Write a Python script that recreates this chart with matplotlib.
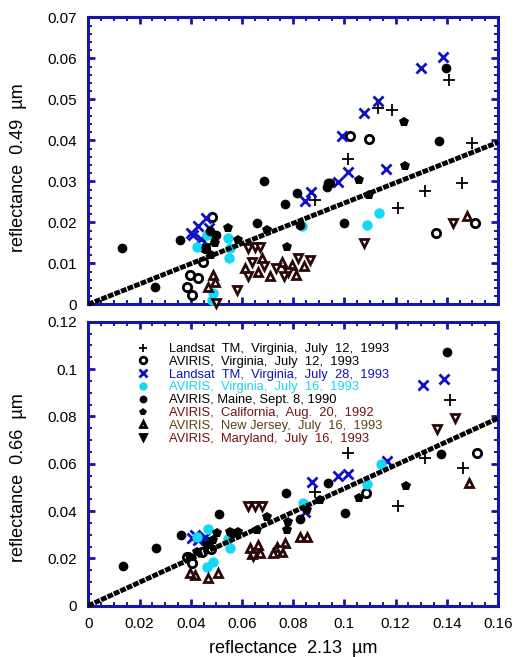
import matplotlib
matplotlib.use("Agg")
import matplotlib.pyplot as plt
from matplotlib.ticker import MultipleLocator, FuncFormatter

plt.rcParams["font.family"] = ["Liberation Sans", "DejaVu Sans"]

FRAME_BLUE = "#1616a8"
X_BLUE = "#1010c0"
CYAN = "#14d8f4"
DARK_BROWN = "#2a0808"

# fitted lines (slope of y on x through origin)
TOP_SLOPE = 0.247
BOT_SLOPE = 0.495

LABELS = [
    "Landsat  TM,  Virginia,  July  12,  1993",
    "AVIRIS,  Virginia,  July  12,  1993",
    "Landsat  TM,  Virginia,  July  28,  1993",
    "AVIRIS,  Virginia,  July  16,  1993",
    "AVIRIS, Maine, Sept. 8, 1990",
    "AVIRIS,  California,  Aug.  20,  1992",
    "AVIRIS,  New Jersey,  July  16,  1993",
    "AVIRIS,  Maryland,  July  16,  1993",
]
LABEL_COLORS = ["black", "black", X_BLUE, CYAN, "black", "#6e1212", "#5a4212", "#6e1212"]

# ---------------- top panel: reflectance 0.49 um vs 2.13 um ----------------
top_tm12_x = [0.141, 0.1133, 0.1185, 0.1016, 0.0886, 0.1315, 0.1211, 0.1458, 0.1498]
top_tm12_y = [0.0547, 0.0478, 0.0474, 0.0354, 0.0254, 0.0277, 0.0234, 0.0295, 0.0393]

top_av12_x = [0.1022, 0.1096, 0.151, 0.1357, 0.0384, 0.0404, 0.0397, 0.043, 0.0482, 0.0456, 0.0449, 0.0468]
top_av12_y = [0.041, 0.0402, 0.0199, 0.0175, 0.0043, 0.0023, 0.0071, 0.0063, 0.0214, 0.0137, 0.0104, 0.0157]

top_tm28_x = [0.1384, 0.130, 0.1133, 0.1077, 0.099, 0.1013, 0.1163, 0.0974, 0.087, 0.0847,
              0.041, 0.043, 0.046, 0.044, 0.040, 0.047]
top_tm28_y = [0.0604, 0.0576, 0.0497, 0.0467, 0.041, 0.0323, 0.033, 0.0298, 0.0273, 0.0252,
              0.017, 0.019, 0.021, 0.016, 0.0175, 0.0185]

top_av16_x = [0.1087, 0.1137, 0.0423, 0.0462, 0.0547, 0.0553, 0.0551, 0.0488, 0.0482, 0.0834]
top_av16_y = [0.0193, 0.0222, 0.014, 0.0169, 0.0161, 0.0137, 0.0112, 0.0027, 0.001, 0.019]

top_maine_x = [0.013, 0.026, 0.0358, 0.0686, 0.0768, 0.0816, 0.066, 0.1371, 0.1397, 0.0999,
               0.0931, 0.0944, 0.0827, 0.050, 0.0475, 0.0938]
top_maine_y = [0.0137, 0.0041, 0.0157, 0.0301, 0.0244, 0.0272, 0.0199, 0.0399, 0.0576, 0.0199,
               0.0287, 0.0297, 0.0193, 0.017, 0.018, 0.0295]

top_calif_x = [0.1233, 0.1237, 0.1059, 0.1096, 0.0547, 0.0586, 0.0697, 0.0775, 0.0495, 0.046, 0.048]
top_calif_y = [0.0445, 0.0337, 0.0303, 0.0267, 0.0185, 0.0157, 0.0181, 0.0139, 0.015, 0.0135, 0.012]

top_nj_x = [0.1478, 0.0488, 0.0495, 0.0468, 0.0612, 0.0663, 0.071, 0.0757, 0.0796, 0.0843, 0.0679, 0.0811]
top_nj_y = [0.0215, 0.0071, 0.0055, 0.0043, 0.0089, 0.0079, 0.0069, 0.0103, 0.0096, 0.0093, 0.0113, 0.0071]

top_md_x = [0.0625, 0.0651, 0.067, 0.058, 0.1077, 0.1426, 0.0499, 0.0639, 0.0686, 0.0733, 0.078,
            0.0819, 0.0866, 0.0764, 0.0624]
top_md_y = [0.0137, 0.0139, 0.0139, 0.0035, 0.0149, 0.0199, 0.0003, 0.0103, 0.0093, 0.0089, 0.0079,
            0.0113, 0.0108, 0.0069, 0.0069]

# ---------------- bottom panel: reflectance 0.66 um vs 2.13 um ----------------
bot_tm12_x = [0.1413, 0.1016, 0.1315, 0.1462, 0.1211, 0.0886]
bot_tm12_y = [0.087, 0.0644, 0.0623, 0.0581, 0.0422, 0.0482]

bot_av12_x = [0.1517, 0.0384, 0.0405, 0.0465, 0.048, 0.0445, 0.1085]
bot_av12_y = [0.0647, 0.0207, 0.018, 0.027, 0.024, 0.0225, 0.0478]

bot_tm28_x = [0.1306, 0.139, 0.1168, 0.0873, 0.0977, 0.1016, 0.0846, 0.0404, 0.043, 0.0456, 0.0418]
bot_tm28_y = [0.0933, 0.0957, 0.0612, 0.0524, 0.055, 0.0556, 0.0398, 0.0285, 0.0278, 0.0292, 0.030]

bot_av16_x = [0.1142, 0.109, 0.084, 0.0423, 0.0469, 0.0547, 0.0553, 0.0462, 0.0488]
bot_av16_y = [0.0599, 0.0515, 0.0433, 0.0292, 0.0323, 0.0281, 0.0243, 0.0162, 0.0186]

bot_maine_x = [0.14, 0.0134, 0.0264, 0.0361, 0.0512, 0.0772, 0.056, 0.1376, 0.0938, 0.1003, 0.0827]
bot_maine_y = [0.107, 0.0168, 0.0243, 0.0299, 0.0388, 0.0478, 0.0309, 0.064, 0.0518, 0.0393, 0.0365]

bot_calif_x = [0.1241, 0.1059, 0.0553, 0.0586, 0.0658, 0.0697, 0.0775, 0.0781, 0.0397, 0.0423,
               0.0462, 0.0488, 0.0502, 0.0855, 0.0905]
bot_calif_y = [0.0507, 0.0454, 0.0313, 0.0313, 0.032, 0.0376, 0.032, 0.0355, 0.0207, 0.0228,
               0.0257, 0.0278, 0.0306, 0.0405, 0.0445]

bot_nj_x = [0.1488, 0.0825, 0.0855, 0.0632, 0.0664, 0.0638, 0.0671, 0.0736, 0.0768, 0.0723,
            0.0755, 0.0417, 0.0469, 0.0508, 0.0397]
bot_nj_y = [0.052, 0.0292, 0.0292, 0.0243, 0.0257, 0.0219, 0.0222, 0.025, 0.0264, 0.0222,
            0.0228, 0.013, 0.0116, 0.0137, 0.0137]

bot_md_x = [0.1432, 0.1361, 0.0625, 0.0652, 0.0678, 0.0645, 0.075]
bot_md_y = [0.0792, 0.0746, 0.0422, 0.0422, 0.0422, 0.021, 0.0235]


def series_styles():
    return [
        dict(marker="+", ls="none", color="black", ms=8, mew=1.3),
        dict(marker="o", ls="none", color="black", mfc="white", ms=6, mew=2.0),
        dict(marker="x", ls="none", color=X_BLUE, ms=6.5, mew=2.0),
        dict(marker="o", ls="none", color=CYAN, ms=7.5, mew=0),
        dict(marker="o", ls="none", color="black", ms=7, mew=0),
        dict(marker="p", ls="none", color="black", ms=7, mew=0),
        dict(marker="^", ls="none", color=DARK_BROWN, mfc="white", ms=5.5, mew=2.0),
        dict(marker="v", ls="none", color=DARK_BROWN, mfc="white", ms=5.5, mew=2.0),
    ]


def style_axes(ax, ymax, ymajor, yminor, show_xlabels):
    ax.set_xlim(0, 0.16)
    ax.set_ylim(0, ymax)
    for sp in ax.spines.values():
        sp.set_color(FRAME_BLUE)
        sp.set_linewidth(2.2)
    ax.xaxis.set_major_locator(MultipleLocator(0.02))
    ax.xaxis.set_minor_locator(MultipleLocator(0.005))
    ax.yaxis.set_major_locator(MultipleLocator(ymajor))
    ax.yaxis.set_minor_locator(MultipleLocator(yminor))
    fmt = FuncFormatter(lambda v, p: "0" if abs(v) < 1e-12 else f"{v:.2f}".rstrip("0"))
    ax.xaxis.set_major_formatter(fmt)
    ax.yaxis.set_major_formatter(fmt)
    ax.tick_params(which="both", direction="in", top=True, right=True,
                   color=FRAME_BLUE, labelsize=11)
    ax.tick_params(which="major", length=5, width=2.0, pad=8)
    ax.tick_params(which="minor", length=3, width=1.4)
    if not show_xlabels:
        ax.tick_params(axis="x", labelbottom=False)


fig = plt.figure(figsize=(5.15, 6.57), dpi=100)
W, H = 515.0, 657.0
ax1 = fig.add_axes([88.3 / W, 1 - 304.3 / H, 409.7 / W, 287.0 / H])
ax2 = fig.add_axes([88.3 / W, 1 - 605.7 / H, 409.7 / W, 284.0 / H])

top_data = [(top_tm12_x, top_tm12_y), (top_av12_x, top_av12_y), (top_tm28_x, top_tm28_y),
            (top_av16_x, top_av16_y), (top_maine_x, top_maine_y), (top_calif_x, top_calif_y),
            (top_nj_x, top_nj_y), (top_md_x, top_md_y)]
bot_data = [(bot_tm12_x, bot_tm12_y), (bot_av12_x, bot_av12_y), (bot_tm28_x, bot_tm28_y),
            (bot_av16_x, bot_av16_y), (bot_maine_x, bot_maine_y), (bot_calif_x, bot_calif_y),
            (bot_nj_x, bot_nj_y), (bot_md_x, bot_md_y)]

for ax, data, slope in [(ax1, top_data, TOP_SLOPE), (ax2, bot_data, BOT_SLOPE)]:
    handles = []
    for (xs, ys), st, lab in zip(data, series_styles(), LABELS):
        h, = ax.plot(xs, ys, label=lab, clip_on=False, zorder=3, **st)
        handles.append(h)
    ax.plot([0, 0.16], [0, 0.16 * slope], color="black", lw=3.5,
            ls=(0, (1.2, 0.25)), zorder=4, clip_on=False)
    ax.handles = handles

style_axes(ax1, 0.07, 0.01, 0.002, False)
style_axes(ax2, 0.12, 0.02, 0.005, True)

ax1.set_ylabel("reflectance  0.49  \u00b5m", fontsize=13)
ax1.yaxis.set_label_coords(-0.15, 0.475)
ax2.set_ylabel("reflectance  0.66  \u00b5m", fontsize=13)
ax2.yaxis.set_label_coords(-0.15, 0.45)
ax2.set_xlabel("reflectance  2.13  \u00b5m", fontsize=13)
ax2.xaxis.set_label_coords(0.5, -0.12)

leg = ax2.legend(handles=ax2.handles, loc="upper left",
                 bbox_to_anchor=((136.8 - 88.3) / 409.7, (605.7 - 343.0) / 284.0),
                 frameon=False, fontsize=9.3, handlelength=1.0, handletextpad=1.5,
                 labelspacing=0.06, borderpad=0, borderaxespad=0, markerscale=0.8)
for txt, c in zip(leg.get_texts(), LABEL_COLORS):
    txt.set_color(c)
for h in leg.legend_handles:
    if h.get_color() not in (X_BLUE, CYAN):
        h.set_color("black")
leg.legend_handles[7].set_markerfacecolor("black")

fig.savefig("out.png", dpi=100)
